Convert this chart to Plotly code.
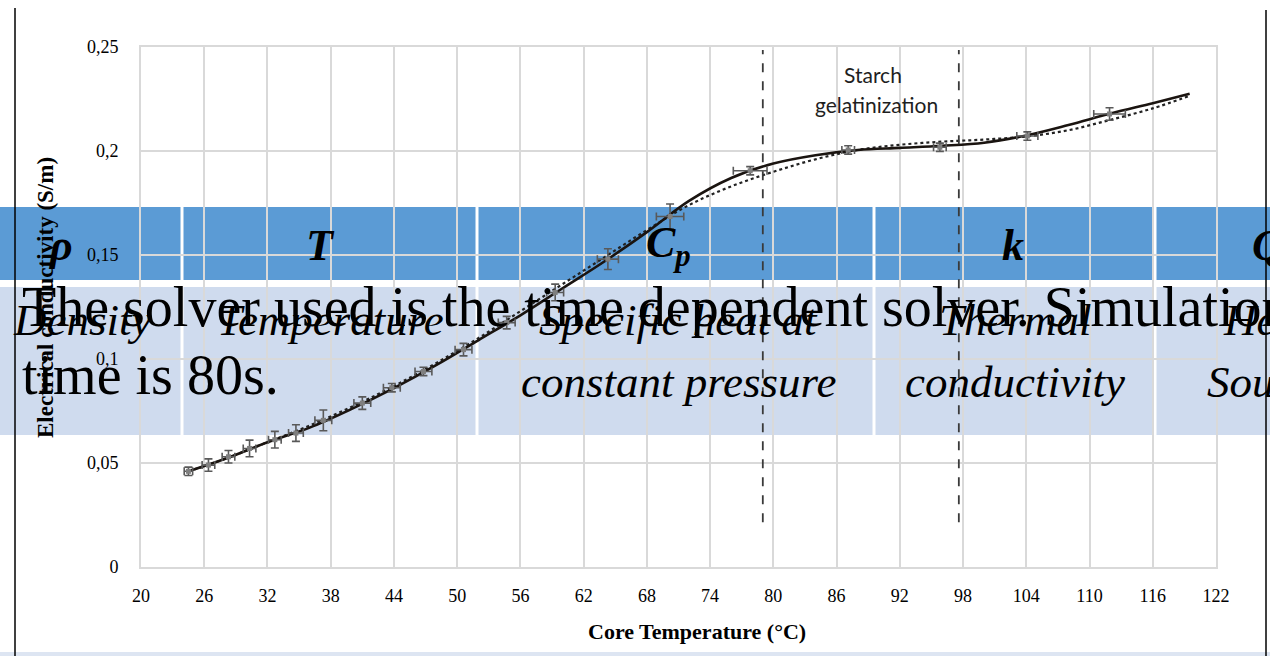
import plotly.graph_objects as go

# ---------------- data ----------------
temp_meas = [24.5, 26.4, 28.3, 30.3, 32.7, 34.7, 37.3, 41.0, 43.8, 46.8, 50.6,
             54.7, 59.3, 64.3, 70.2, 77.8, 87.1, 95.8, 104.1, 111.9]
cond_meas = [0.0460, 0.0490, 0.0530, 0.0570, 0.0612, 0.0644, 0.0705, 0.0788, 0.0862, 0.0940, 0.1045,
             0.1175, 0.1320, 0.1480, 0.1685, 0.1905, 0.2005, 0.2018, 0.2072, 0.2178]
err_y = [0.002, 0.003, 0.003, 0.004, 0.004, 0.004, 0.005, 0.003, 0.002, 0.002, 0.003,
         0.003, 0.004, 0.005, 0.006, 0.002, 0.002, 0.002, 0.002, 0.003]
err_x = [0.4, 0.6, 0.6, 0.6, 0.6, 0.7, 0.8, 0.8, 0.8, 0.8, 0.8,
         0.8, 0.8, 1.0, 1.3, 1.6, 0.6, 0.6, 1.0, 1.5]

temp_fit = [24.5, 28, 32, 36, 40, 44, 48, 52, 56, 60, 64, 68, 72, 76, 80, 84, 88, 92, 96, 100, 104, 108, 112, 116, 119.5]
cond_fit = [0.046, 0.052, 0.060, 0.067, 0.076, 0.086, 0.097, 0.109, 0.121, 0.134, 0.147, 0.161, 0.176, 0.187,
            0.194, 0.198, 0.2005, 0.2015, 0.2025, 0.2040, 0.2075, 0.2125, 0.2180, 0.2230, 0.2275]
temp_model = [24.5, 28, 32, 36, 40, 44, 48, 52, 56, 60, 64, 68, 72, 76, 80, 84, 88, 92, 96, 100, 104, 108, 112, 116, 119.5]
cond_model = [0.046, 0.052, 0.060, 0.068, 0.077, 0.087, 0.098, 0.110, 0.123, 0.136, 0.149, 0.162, 0.174, 0.183,
              0.190, 0.196, 0.2005, 0.2030, 0.2045, 0.2055, 0.2070, 0.2100, 0.2150, 0.2205, 0.2265]

gelat_bounds = [79.0, 97.6]
x_ticks = [20, 26, 32, 38, 44, 50, 56, 62, 68, 74, 80, 86, 92, 98, 104, 110, 116, 122]

table_symbols = ["<b><i>ρ</i></b>", "<b><i>T</i></b>", "<b><i>C<sub>p</sub></i></b>", "<b><i>k</i></b>", "<b><i>Q</i></b>"]
table_desc = [["Density"], ["Temperature"], ["Specific heat at", "constant pressure"],
              ["Thermal", "conductivity"], ["Heat", "Source"]]
overlay_lines = ["The solver used is the time dependent solver. Simulation", "time is 80s."]

# ---------------- geometry helpers (pixel -> paper) ----------------
L, R, T, B = 141, 1216, 47, 567
def xp(px):
    return (px - L) / (R - L)
def yp(py):
    return (B - py) / (B - T)

fig = go.Figure()

fig.add_trace(go.Scatter(x=temp_model, y=cond_model, mode="lines", line=dict(color="#222222", width=2.2, dash="dot", shape="spline"), showlegend=False))
fig.add_trace(go.Scatter(x=temp_fit, y=cond_fit, mode="lines", line=dict(color="#1a1410", width=2.6, shape="spline"), showlegend=False))
fig.add_trace(go.Scatter(x=temp_meas, y=cond_meas, mode="markers",
                         marker=dict(symbol="square", size=5, color="#7f7f7f"),
                         error_y=dict(type="data", array=err_y, color="#595959", thickness=1.6, width=4),
                         error_x=dict(type="data", array=err_x, color="#595959", thickness=1.6, width=4),
                         showlegend=False))

shapes = []
# table bands (below the grid)
shapes.append(dict(type="rect", xref="paper", yref="paper", x0=xp(0), x1=xp(1270), y0=yp(207), y1=yp(280),
                   fillcolor="#5b9bd5", line=dict(width=0), layer="below"))
shapes.append(dict(type="rect", xref="paper", yref="paper", x0=xp(0), x1=xp(1270), y0=yp(287), y1=yp(435),
                   fillcolor="#cfdbee", line=dict(width=0), layer="below"))
shapes.append(dict(type="rect", xref="paper", yref="paper", x0=xp(0), x1=xp(1270), y0=yp(652), y1=yp(656),
                   fillcolor="#dde5f2", line=dict(width=0), layer="below"))
for sx in [182, 477, 874, 1155]:
    shapes.append(dict(type="line", xref="paper", yref="paper", x0=xp(sx), x1=xp(sx), y0=yp(207), y1=yp(435),
                       line=dict(color="white", width=3), layer="below"))
# frame lines
shapes.append(dict(type="line", xref="paper", yref="paper", x0=xp(15), x1=xp(15), y0=yp(8), y1=yp(656),
                   line=dict(color="black", width=1.5)))
shapes.append(dict(type="line", xref="paper", yref="paper", x0=xp(1266), x1=xp(1266), y0=yp(10), y1=yp(656),
                   line=dict(color="black", width=1.5)))
# gelatinization bounds
for gx in gelat_bounds:
    shapes.append(dict(type="line", xref="x", yref="y", x0=gx, x1=gx, y0=0.0215, y1=0.2485,
                       line=dict(color="#3a3a3a", width=1.8, dash="dash")))

ann = []
serif = "Liberation Serif"
def A(px, py, text, font, **kw):
    d = dict(x=xp(px), y=yp(py), xref="paper", yref="paper", text=text, showarrow=False,
             xanchor="center", yanchor="middle", font=font)
    d.update(kw)
    ann.append(d)

A(873, 74, "Starch", dict(family="Lato", size=21, color="#1e1e1e"))
A(876, 104, "gelatinization", dict(family="Lato", size=21, color="#1e1e1e"))
A(697, 631, "<b>Core Temperature (°C)</b>", dict(family=serif, size=22, color="black"))
A(45, 298, "<b>Electrical conductivity (S/m)</b>", dict(family=serif, size=23, color="black"), textangle=-90)

sym_x = [60, 320, 668, 1013, 1268]
for s, sx in zip(table_symbols, sym_x):
    A(sx, 245, s, dict(family=serif, size=44, color="black"))
desc_x = [82, 330, 678, 1015, 1268]
for d, dx in zip(table_desc, desc_x):
    for i, line in enumerate(d):
        A(dx, 320 + 62 * i, "<i>" + line + "</i>", dict(family=serif, size=45, color="black"))

for i, line in enumerate(overlay_lines):
    A(20, 307 + 68 * i, line, dict(family=serif, size=56, color="black"), xanchor="left")

fig.update_layout(
    width=1270, height=656,
    margin=dict(l=L, r=1270 - R, t=T, b=656 - B, pad=0),
    paper_bgcolor="white", plot_bgcolor="rgba(0,0,0,0)",
    separators=",.",
    shapes=shapes, annotations=ann,
    xaxis=dict(range=[20, 122], tickvals=x_ticks, showgrid=True, gridcolor="#d9d9d9", gridwidth=2,
               showline=True, linecolor="#d9d9d9", linewidth=2, mirror=True, zeroline=False, ticks="",
               tickfont=dict(family=serif, size=18, color="black"), ticklabelstandoff=11),
    yaxis=dict(range=[0, 0.25], dtick=0.05, tick0=0, showgrid=True, gridcolor="#d9d9d9", gridwidth=2,
               showline=True, linecolor="#d9d9d9", linewidth=2, mirror=True, zeroline=False, ticks="",
               tickfont=dict(family=serif, size=18, color="black"), ticklabelstandoff=17),
)

fig.write_html("out.html")
